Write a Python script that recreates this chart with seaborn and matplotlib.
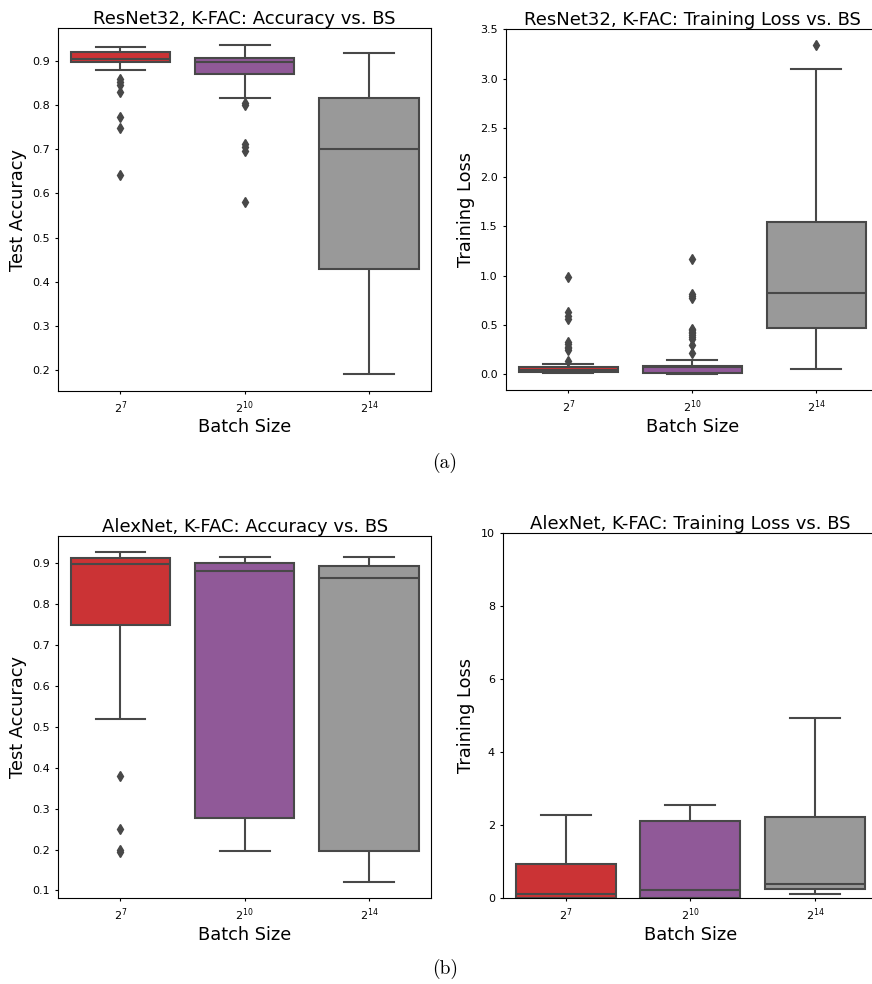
import numpy as np
import pandas as pd
import matplotlib
matplotlib.use("Agg")
import matplotlib.pyplot as plt
import seaborn as sns

# Batch sizes on the x axis and the colour used for each
batch_sizes = ["$2^{7}$", "$2^{10}$", "$2^{14}$"]
palette = ["#e41a1c", "#984ea3", "#999999"]
line_color = "#484848"

# ResNet32, K-FAC: final test accuracy of each run
resnet_acc_bs7 = [0.642, 0.748, 0.772, 0.830, 0.846, 0.852, 0.858, 0.879,
                  0.898, 0.899, 0.900, 0.901, 0.901, 0.902, 0.903, 0.903,
                  0.904, 0.906, 0.908, 0.910, 0.912, 0.914, 0.916, 0.918,
                  0.920, 0.921, 0.922, 0.924, 0.925, 0.927, 0.928, 0.930,
                  0.931]
resnet_acc_bs10 = [0.580, 0.697, 0.705, 0.711, 0.801, 0.805, 0.815,
                   0.869, 0.872, 0.876, 0.880, 0.884, 0.889, 0.893,
                   0.898, 0.899, 0.900, 0.901, 0.903, 0.904, 0.905,
                   0.907, 0.910, 0.914, 0.918, 0.922, 0.927, 0.931,
                   0.936]
resnet_acc_bs14 = [0.191, 0.310, 0.430, 0.560, 0.700, 0.760, 0.815, 0.870, 0.917]

# ResNet32, K-FAC: final training loss of each run
resnet_loss_bs7 = [0.010, 0.012, 0.014, 0.015, 0.017, 0.018, 0.020, 0.021,
                   0.023, 0.024, 0.026, 0.027, 0.029, 0.031, 0.033, 0.035,
                   0.037, 0.039, 0.040, 0.042, 0.044, 0.045, 0.047, 0.049,
                   0.051, 0.053, 0.055, 0.057, 0.059, 0.061, 0.063, 0.065,
                   0.067, 0.069, 0.108, 0.138, 0.243, 0.262, 0.277, 0.311,
                   0.330, 0.565, 0.590, 0.632, 0.991]
resnet_loss_bs10 = [0.001, 0.001, 0.002, 0.002, 0.003, 0.003, 0.004, 0.004,
                    0.005, 0.005, 0.006, 0.006, 0.007, 0.007, 0.008, 0.013,
                    0.018, 0.023, 0.028, 0.033, 0.038, 0.043, 0.048, 0.053,
                    0.058, 0.063, 0.068, 0.072, 0.076, 0.077, 0.078, 0.078,
                    0.079, 0.080, 0.080, 0.081, 0.082, 0.082, 0.083, 0.084,
                    0.085, 0.085, 0.086, 0.143, 0.212, 0.294, 0.362, 0.380,
                    0.396, 0.415, 0.430, 0.447, 0.463, 0.768, 0.790, 0.818,
                    1.173]
resnet_loss_bs14 = [0.054, 0.210, 0.473, 0.640, 0.822, 1.120, 1.549, 3.098, 3.340]

# AlexNet, K-FAC: final test accuracy of each run
alexnet_acc_bs7 = [0.194, 0.199, 0.249, 0.380, 0.520, 0.748, 0.790, 0.832,
                   0.861, 0.884, 0.897, 0.900, 0.903, 0.907, 0.910, 0.913,
                   0.915, 0.918, 0.920, 0.923, 0.926]
alexnet_acc_bs10 = [0.196, 0.240, 0.278, 0.620, 0.881, 0.891, 0.900, 0.908, 0.916]
alexnet_acc_bs14 = [0.121, 0.160, 0.197, 0.550, 0.863, 0.879, 0.893, 0.905, 0.916]

# AlexNet, K-FAC: final training loss of each run
alexnet_loss_bs7 = [0.001, 0.002, 0.004, 0.030, 0.100, 0.450, 0.920, 1.600, 2.270]
alexnet_loss_bs10 = [0.001, 0.002, 0.003, 0.090, 0.228, 1.200, 2.117, 2.330, 2.545]
alexnet_loss_bs14 = [0.100, 0.170, 0.237, 0.310, 0.392, 1.300, 2.226, 3.600, 4.920]


def long_frame(groups):
    rows = []
    for bs, vals in zip(batch_sizes, groups):
        rows += [(bs, v) for v in vals]
    return pd.DataFrame(rows, columns=["Batch Size", "value"])


def draw(ax, groups, title, ylabel, ylim=None):
    df = long_frame(groups)
    sns.boxplot(data=df, x="Batch Size", y="value", hue="Batch Size",
                order=batch_sizes, hue_order=batch_sizes, palette=palette,
                saturation=0.75, linecolor=line_color, linewidth=1.5,
                width=0.8, legend=False, ax=ax,
                flierprops=dict(marker="d", markerfacecolor=line_color,
                                markeredgecolor=line_color, markersize=5,
                                linestyle="none"))
    ax.set_title(title, fontsize=13, pad=1.5)
    ax.set_xlabel("Batch Size", fontsize=12.8, labelpad=2)
    ax.set_ylabel(ylabel, fontsize=12.8)
    ax.tick_params(labelsize=8, length=2.5)
    if ylim is not None:
        ax.set_ylim(*ylim)


fig = plt.figure(figsize=(8.72, 9.84), dpi=100)
ax_tl = fig.add_axes([0.0669, 0.6029, 0.4274, 0.3683])
ax_tr = fig.add_axes([0.5806, 0.6037, 0.4266, 0.3666])
ax_bl = fig.add_axes([0.0669, 0.0871, 0.4274, 0.3682])
ax_br = fig.add_axes([0.5772, 0.0874, 0.4289, 0.3712])

draw(ax_tl, [resnet_acc_bs7, resnet_acc_bs10, resnet_acc_bs14],
     "ResNet32, K-FAC: Accuracy vs. BS", "Test Accuracy")
draw(ax_tr, [resnet_loss_bs7, resnet_loss_bs10, resnet_loss_bs14],
     "ResNet32, K-FAC: Training Loss vs. BS", "Training Loss", ylim=(-0.16, 3.5))
draw(ax_bl, [alexnet_acc_bs7, alexnet_acc_bs10, alexnet_acc_bs14],
     "AlexNet, K-FAC: Accuracy vs. BS", "Test Accuracy")
draw(ax_br, [alexnet_loss_bs7, alexnet_loss_bs10, alexnet_loss_bs14],
     "AlexNet, K-FAC: Training Loss vs. BS", "Training Loss", ylim=(0, 10))

fig.text(445 / 872, 1 - 463 / 984, "(a)", family="cmr10", fontsize=14,
         ha="center", va="center")
fig.text(445 / 872, 1 - 969 / 984, "(b)", family="cmr10", fontsize=14,
         ha="center", va="center")

fig.savefig("out.png", dpi=100)
